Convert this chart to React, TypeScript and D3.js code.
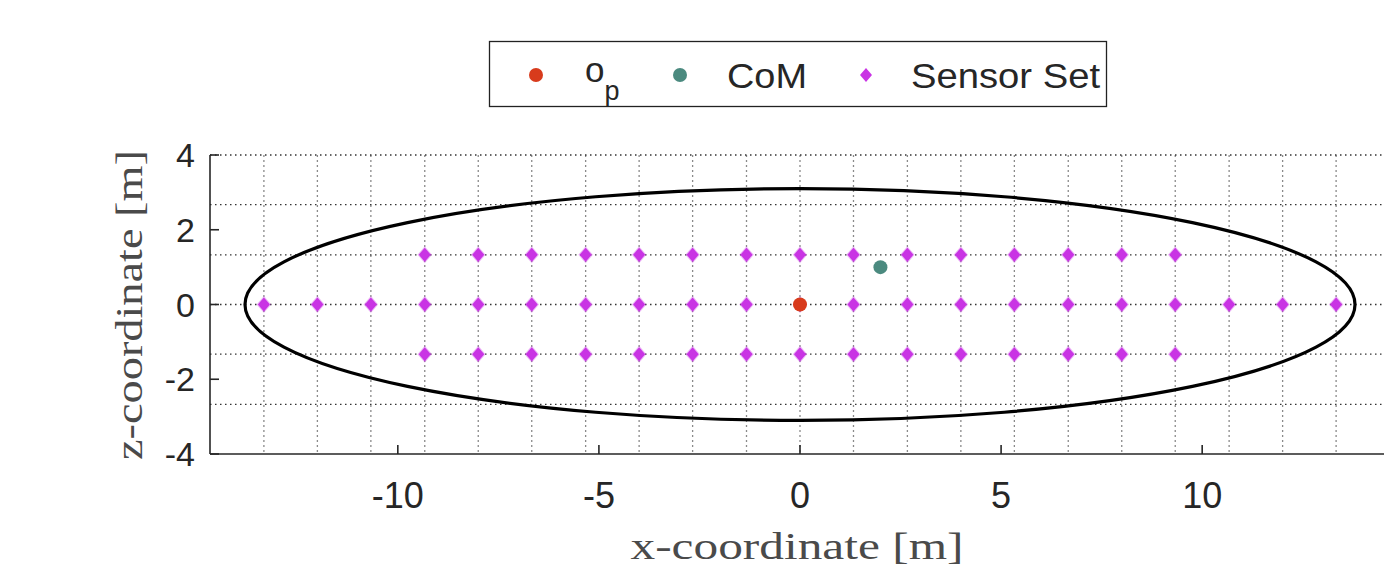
import React, { useEffect, useRef } from 'react';
import * as d3 from 'd3';

// Sensor layout (grid spacing 4/3 m)
const middleRowX = [-13.33, -12, -10.67, -9.33, -8, -6.67, -5.33, -4, -2.67, -1.33, 0, 1.33, 2.67, 4, 5.33, 6.67, 8, 9.33, 10.67, 12, 13.33];
const outerRowX = [-9.33, -8, -6.67, -5.33, -4, -2.67, -1.33, 0, 1.33, 2.67, 4, 5.33, 6.67, 8, 9.33];
const outerRowZ = [1.33, -1.33];

const originPoint = { x: 0, z: 0 };
const comPoint = { x: 2, z: 1 };

// Hull ellipse semi-axes [m]
const ellipseA = 13.8;
const ellipseB = 3.1;

const xTicks = [-10, -5, 0, 5, 10];
const zTicks = [-4, -2, 0, 2, 4];
const xGrid = [-13.33, -12, -10.67, -9.33, -8, -6.67, -5.33, -4, -2.67, -1.33, 0, 1.33, 2.67, 4, 5.33, 6.67, 8, 9.33, 10.67, 12, 13.33];
const zGrid = [-2.67, -1.33, 0, 1.33, 2.67, 4];

const xDomain = [-14.67, 14.67];
const zDomain = [-4, 4];

const RED = '#d83b1c';
const TEAL = '#4b8a7f';
const MAGENTA = '#c934e4';
const INK = '#262626';

// diamond marker, a bit wider than d3's symbolDiamond
const diamondPath = (w: number, h: number) =>
  d3.line()([[0, -h], [w, 0], [0, h], [-w, 0]]) + 'Z';

export default function App() {
  const svgRef = useRef<SVGSVGElement>(null);

  useEffect(() => {
    if (!svgRef.current) return;
    const svg = d3.select(svgRef.current);
    svg.selectAll('*').remove();

    const left = 210;
    const right = 1390;
    const top = 155;
    const bottom = 454;

    const x = d3.scaleLinear().domain(xDomain).range([left, right]);
    const z = d3.scaleLinear().domain(zDomain).range([bottom, top]);

    const g = svg.append('g');

    // Grid
    g.selectAll('line.vgrid')
      .data(xGrid)
      .enter()
      .append('line')
      .attr('x1', d => x(d))
      .attr('x2', d => x(d))
      .attr('y1', top)
      .attr('y2', bottom)
      .attr('stroke', '#8a8a8a')
      .attr('stroke-width', 1.3)
      .attr('stroke-dasharray', '2,3');

    g.selectAll('line.hgrid')
      .data(zGrid)
      .enter()
      .append('line')
      .attr('x1', left)
      .attr('x2', right)
      .attr('y1', d => z(d))
      .attr('y2', d => z(d))
      .attr('stroke', '#333')
      .attr('stroke-width', 1.3)
      .attr('stroke-dasharray', '1.5,3.5');

    // Ellipse
    g.append('ellipse')
      .attr('cx', x(0))
      .attr('cy', z(0))
      .attr('rx', x(ellipseA) - x(0))
      .attr('ry', z(0) - z(ellipseB))
      .attr('fill', 'none')
      .attr('stroke', '#000')
      .attr('stroke-width', 3.2);

    // Sensors
    const diamond = diamondPath(6, 7);
    const sensors = [
      ...middleRowX.map(v => ({ x: v, z: 0 })),
      ...outerRowZ.flatMap(zz => outerRowX.map(v => ({ x: v, z: zz }))),
    ];
    g.selectAll('path.sensor')
      .data(sensors)
      .enter()
      .append('path')
      .attr('d', diamond)
      .attr('transform', d => `translate(${x(d.x)},${z(d.z)})`)
      .attr('fill', MAGENTA)
      .attr('stroke', MAGENTA)
      .attr('stroke-opacity', 0.35)
      .attr('stroke-width', 2);

    // o_p and CoM
    g.append('circle')
      .attr('cx', x(originPoint.x))
      .attr('cy', z(originPoint.z))
      .attr('r', 7)
      .attr('fill', RED);

    g.append('circle')
      .attr('cx', x(comPoint.x))
      .attr('cy', z(comPoint.z))
      .attr('r', 7)
      .attr('fill', TEAL);

    // Axes lines
    g.append('line')
      .attr('x1', left).attr('x2', left)
      .attr('y1', top).attr('y2', bottom)
      .attr('stroke', INK).attr('stroke-width', 1.6);
    g.append('line')
      .attr('x1', left).attr('x2', right)
      .attr('y1', bottom).attr('y2', bottom)
      .attr('stroke', INK).attr('stroke-width', 1.6);

    // Ticks
    g.selectAll('line.xtick')
      .data(xTicks)
      .enter()
      .append('line')
      .attr('x1', d => x(d)).attr('x2', d => x(d))
      .attr('y1', bottom).attr('y2', bottom - 9)
      .attr('stroke', INK).attr('stroke-width', 1.6);
    g.selectAll('line.ztick')
      .data(zTicks)
      .enter()
      .append('line')
      .attr('x1', left).attr('x2', left + 9)
      .attr('y1', d => z(d)).attr('y2', d => z(d))
      .attr('stroke', INK).attr('stroke-width', 1.6);

    const sans = '"Liberation Sans", Arial, Helvetica, sans-serif';
    const serif = '"Liberation Serif", "DejaVu Serif", serif';

    g.selectAll('text.xlabel')
      .data(xTicks)
      .enter()
      .append('text')
      .attr('x', d => x(d))
      .attr('y', 508)
      .attr('text-anchor', 'middle')
      .style('font-family', sans)
      .style('font-size', '36px')
      .style('fill', INK)
      .text(d => String(d));

    g.selectAll('text.zlabel')
      .data(zTicks)
      .enter()
      .append('text')
      .attr('x', 195)
      .attr('y', d => z(d) + 12)
      .attr('text-anchor', 'end')
      .style('font-family', sans)
      .style('font-size', '34px')
      .style('fill', INK)
      .text(d => String(d));

    // Axis labels
    g.append('text')
      .attr('x', 797)
      .attr('y', 559)
      .attr('text-anchor', 'middle')
      .attr('textLength', 333)
      .attr('lengthAdjust', 'spacingAndGlyphs')
      .style('font-family', serif)
      .style('font-size', '38px')
      .style('fill', '#4a4a4a')
      .text('x-coordinate [m]');

    g.append('text')
      .attr('transform', 'translate(142,305) rotate(-90)')
      .attr('text-anchor', 'middle')
      .attr('textLength', 310)
      .attr('lengthAdjust', 'spacingAndGlyphs')
      .style('font-family', serif)
      .style('font-size', '38px')
      .style('fill', '#4a4a4a')
      .text('z-coordinate [m]');

    // Legend
    const lg = svg.append('g');
    lg.append('rect')
      .attr('x', 489.5).attr('y', 41.5)
      .attr('width', 617).attr('height', 65)
      .attr('fill', '#fff')
      .attr('stroke', '#222')
      .attr('stroke-width', 1.3);

    const legendY = 75;
    lg.append('circle').attr('cx', 536).attr('cy', legendY).attr('r', 7).attr('fill', RED);
    const op = lg.append('text')
      .attr('x', 585).attr('y', 82)
      .style('font-family', sans)
      .style('font-size', '35px')
      .style('fill', INK);
    op.append('tspan').text('o');
    op.append('tspan').attr('dy', 18).style('font-size', '27px').text('p');

    lg.append('circle').attr('cx', 680).attr('cy', legendY).attr('r', 7).attr('fill', TEAL);
    lg.append('text')
      .attr('x', 727).attr('y', 88)
      .attr('textLength', 80)
      .attr('lengthAdjust', 'spacingAndGlyphs')
      .style('font-family', sans)
      .style('font-size', '35px')
      .style('fill', INK)
      .text('CoM');

    lg.append('path')
      .attr('d', diamond)
      .attr('transform', `translate(866,${legendY})`)
      .attr('fill', MAGENTA);
    lg.append('text')
      .attr('x', 911).attr('y', 88)
      .attr('textLength', 189)
      .attr('lengthAdjust', 'spacingAndGlyphs')
      .style('font-family', sans)
      .style('font-size', '35px')
      .style('fill', INK)
      .text('Sensor Set');
  }, []);

  return (
    <div>
      <svg
        ref={svgRef}
        width={1384}
        height={575}
        style={{ position: 'absolute', left: 0, top: 0, background: '#fff' }}
      />
    </div>
  );
}
